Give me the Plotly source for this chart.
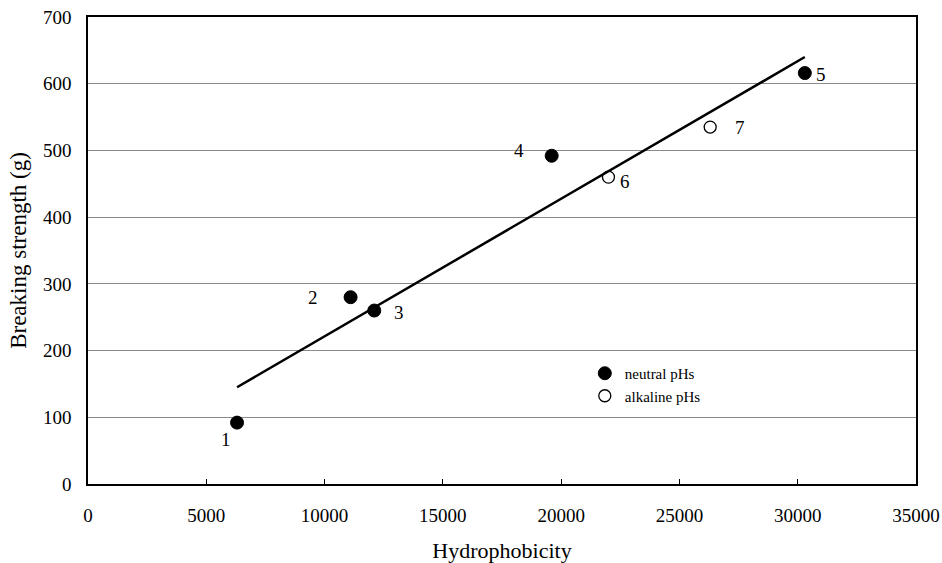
import plotly.graph_objects as go

# Data
labels = ["1", "2", "3", "4", "5", "6", "7"]
hydrophobicity = [6300, 11100, 12100, 19600, 30300, 22000, 26300]
strength = [92, 280, 260, 492, 616, 460, 535]
groups = ["neutral", "neutral", "neutral", "neutral", "neutral", "alkaline", "alkaline"]

trend_x = [6300, 30300]
trend_y = [145, 640]

x_ticks = [0, 5000, 10000, 15000, 20000, 25000, 30000, 35000]
y_ticks = [0, 100, 200, 300, 400, 500, 600, 700]

# label offsets in pixels (dx, dy) – positions only
label_offsets = {"1": (-11, 17), "2": (-38, 0), "3": (25, 2), "4": (-33, -5),
                 "5": (16, 1), "6": (17, 4), "7": (30, 0)}

FONT = "Liberation Serif, Times New Roman, serif"

fig = go.Figure()

fig.add_trace(go.Scatter(x=trend_x, y=trend_y, mode="lines",
                         line=dict(color="black", width=2.5), showlegend=False,
                         hoverinfo="skip"))

nx = [x for x, g in zip(hydrophobicity, groups) if g == "neutral"]
ny = [y for y, g in zip(strength, groups) if g == "neutral"]
ax_ = [x for x, g in zip(hydrophobicity, groups) if g == "alkaline"]
ay_ = [y for y, g in zip(strength, groups) if g == "alkaline"]

fig.add_trace(go.Scatter(x=nx, y=ny, mode="markers", name="neutral pHs",
                         marker=dict(symbol="circle", size=13, color="black",
                                     line=dict(color="black", width=1))))
fig.add_trace(go.Scatter(x=ax_, y=ay_, mode="markers", name="alkaline pHs",
                         marker=dict(symbol="circle-open", size=12, color="black",
                                     line=dict(color="black", width=1.3))))

for lab, x, y in zip(labels, hydrophobicity, strength):
    dx, dy = label_offsets[lab]
    fig.add_annotation(x=x, y=y, text=lab, showarrow=True, arrowcolor="rgba(0,0,0,0)",
                       ax=dx, ay=dy, font=dict(family=FONT, size=19, color="black"))

fig.update_layout(
    width=942, height=563,
    margin=dict(l=88, r=26, t=17, b=79),
    paper_bgcolor="white", plot_bgcolor="white",
    font=dict(family=FONT, size=19, color="black"),
    legend=dict(x=0.6, y=0.272, xanchor="left", yanchor="top",
                bgcolor="rgba(0,0,0,0)", font=dict(family=FONT, size=15),
                itemwidth=30, tracegroupgap=0),
)

fig.update_xaxes(range=[0, 35000], tickvals=x_ticks, ticktext=[str(v) for v in x_ticks],
                 automargin=False, ticklabeloverflow="allow",
                 showgrid=False, zeroline=False, showline=True, linecolor="black",
                 linewidth=1.5, mirror=True, ticks="inside", ticklen=5, tickcolor="black",
                 ticklabelstandoff=13,
                 title=dict(text="Hydrophobicity", font=dict(family=FONT, size=22), standoff=20))
fig.update_yaxes(range=[0, 700], tickvals=y_ticks, ticktext=[str(v) for v in y_ticks],
                 automargin=False, ticklabeloverflow="allow",
                 showgrid=True, gridcolor="#8a8a8a", gridwidth=1, zeroline=False,
                 showline=True, linecolor="black", linewidth=1.5, mirror=True,
                 ticks="", ticklabelstandoff=11,
                 title=dict(text="Breaking strength (g)", font=dict(family=FONT, size=23),
                            standoff=10))

# remove the browser's default page margin so the figure fills the window exactly
fig.write_html("out.html", config={"displayModeBar": False},
               post_script="document.body.style.margin='0';")
